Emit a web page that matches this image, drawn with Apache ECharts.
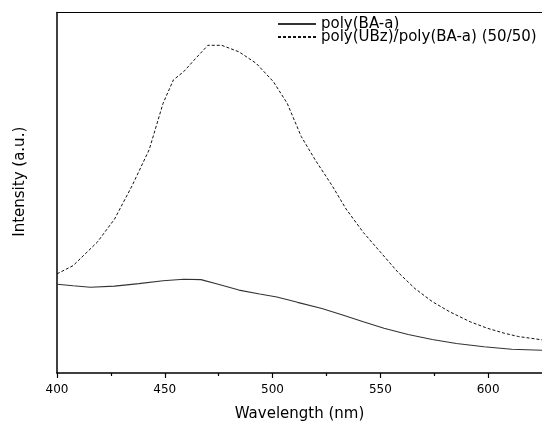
<!DOCTYPE html>
<html>
<head>
<meta charset="utf-8">
<script src="https://cdn.jsdelivr.net/npm/echarts@6/dist/echarts.min.js"></script>
<style>
html,body{margin:0;padding:0;background:#fff;}
#chart{width:542px;height:427px;}
</style>
</head>
<body>
<div id="chart"></div>
<script>
// Wavelength (nm) and intensity (a.u.)
var blendWavelength = [400, 407.5, 418.7, 426.7, 434.8, 442.8, 449.2, 454, 458.8, 463.6, 470, 476.4, 484.4, 492.4, 500.4, 506.8, 513.3, 519.7, 527.7, 534.1, 542.1, 550.1, 558.1, 566.1, 574.1, 582.1, 591.7, 599.7, 607.7, 614.2, 625];
var blendIntensity = [27.5, 29.8, 36.3, 42.7, 51.9, 62.0, 74.8, 81.3, 83.6, 86.8, 90.9, 90.9, 89.1, 85.9, 80.8, 74.8, 65.6, 59.2, 51.9, 45.5, 39.0, 33.5, 28.0, 23.4, 19.8, 17.0, 14.2, 12.4, 11.0, 10.1, 9.2];

var baWavelength = [400, 407.5, 415.5, 426.7, 438, 449.2, 458.8, 466.8, 474.8, 484.4, 494, 502, 511.6, 522.9, 532.5, 542.1, 551.7, 562.9, 574.1, 585.3, 598.1, 610.9, 625];
var baIntensity = [24.6, 24.2, 23.8, 24.1, 24.8, 25.6, 26.0, 25.9, 24.6, 23.0, 21.9, 21.1, 19.6, 17.9, 16.1, 14.2, 12.4, 10.7, 9.3, 8.2, 7.3, 6.6, 6.3];

var seriesNames = ['poly(BA-a)', 'poly(UBz)/poly(BA-a) (50/50)'];
var majorTicks = [400, 450, 500, 550, 600];
var minorTicks = [425, 475, 525, 575];

function pairs(xs, ys) {
  return xs.map(function (x, i) { return [x, ys[i]]; });
}

var FONT = 'DejaVu Sans';
var chart = echarts.init(document.getElementById('chart'), null, {renderer: 'canvas'});
chart.setOption({
  animation: false,
  backgroundColor: '#fff',
  textStyle: {fontFamily: FONT, color: '#000'},
  grid: {left: 57, right: 0, top: 12.5, bottom: 52},
  legend: {
    left: 277, top: 16.5, orient: 'vertical', padding: 0,
    itemWidth: 38, itemHeight: 12, itemGap: -2,
    itemStyle: {color: 'rgba(0,0,0,0)', borderColor: 'rgba(0,0,0,0)', borderWidth: 0, opacity: 0},
    textStyle: {fontFamily: FONT, fontSize: 15, lineHeight: 12, color: '#000'},
    data: seriesNames
  },
  xAxis: [{
    type: 'value', min: 400, max: 625, position: 'bottom',
    name: 'Wavelength (nm)', nameLocation: 'middle', nameGap: 34,
    nameTextStyle: {fontFamily: FONT, fontSize: 15, color: '#000'},
    axisLine: {show: true, onZero: false, lineStyle: {color: '#000', width: 1.5}},
    axisTick: {show: true, length: 5, customValues: majorTicks, lineStyle: {color: '#000', width: 1.2}},
    axisLabel: {show: true, customValues: majorTicks, margin: 11, fontFamily: FONT, fontSize: 12, color: '#000'},
    splitLine: {show: false}
  }, {
    type: 'value', min: 400, max: 625, position: 'bottom',
    axisLine: {show: false, onZero: false},
    axisTick: {show: true, length: 3, customValues: minorTicks, lineStyle: {color: '#000', width: 1.2}},
    axisLabel: {show: false},
    splitLine: {show: false}
  }, {
    type: 'value', min: 400, max: 625, position: 'top',
    axisLine: {show: true, onZero: false, lineStyle: {color: '#000', width: 1}},
    axisTick: {show: false}, axisLabel: {show: false}, splitLine: {show: false}
  }],
  yAxis: {
    type: 'value', min: 0, max: 100,
    name: 'Intensity (a.u.)', nameLocation: 'middle', nameGap: 29,
    nameTextStyle: {fontFamily: FONT, fontSize: 15, color: '#000', padding: [0, 0, 0, 22]},
    axisLine: {show: true, onZero: false, lineStyle: {color: '#000', width: 1.5}},
    axisTick: {show: false}, axisLabel: {show: false}, splitLine: {show: false}
  },
  series: [{
    name: seriesNames[0], type: 'line', symbol: 'none', xAxisIndex: 0,
    data: pairs(baWavelength, baIntensity),
    lineStyle: {color: '#333', width: 1.1, type: 'solid'},
    itemStyle: {color: '#333'}
  }, {
    name: seriesNames[1], type: 'line', symbol: 'none', xAxisIndex: 0,
    data: pairs(blendWavelength, blendIntensity),
    lineStyle: {color: '#111', width: 1, type: [3, 2]},
    itemStyle: {color: '#111'}
  }]
});
</script>
</body>
</html>
